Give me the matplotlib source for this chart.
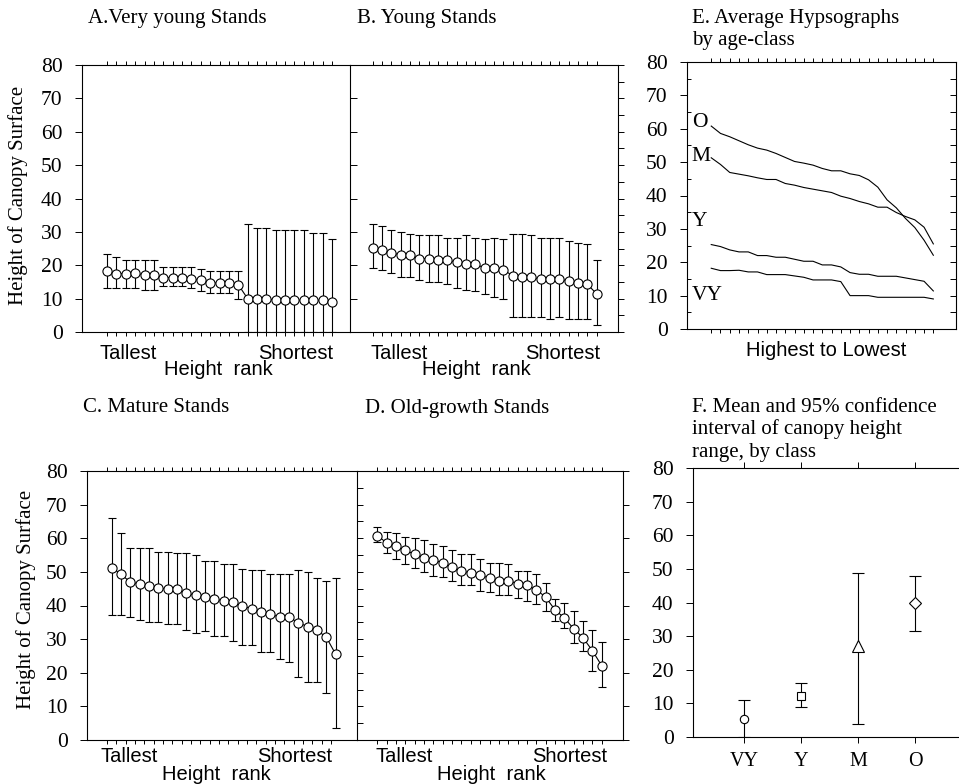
import numpy as np
import matplotlib
matplotlib.use("Agg")
import matplotlib.pyplot as plt

# ---------------------------------------------------------------- data
# Panel A: very young stands (mean and error-bar ends by height rank)
a_mean = [18.2, 17.5, 17.5, 17.6, 17.1, 17.1, 16.3, 16.3, 16.3, 15.9, 15.5, 14.7, 14.7,
          14.7, 14.2, 10.0, 10.0, 10.0, 9.5, 9.5, 9.5, 9.5, 9.5, 9.5, 9.0]
a_low = [13.2, 13.2, 13.2, 13.2, 12.7, 12.7, 13.9, 13.9, 13.9, 13.2, 12.4, 11.6, 11.6,
         11.6, 10.0, 0.0, 0.0, 0.0, 0.0, 0.0, 0.0, 0.0, 0.0, 0.0, 0.0]
a_high = [23.3, 22.5, 21.6, 21.6, 21.6, 21.6, 19.5, 19.5, 19.5, 19.5, 19.0, 18.4, 18.4,
          18.4, 18.4, 32.5, 31.2, 31.2, 30.7, 30.7, 30.7, 30.7, 29.7, 29.7, 27.9]

# Panel B: young stands
b_mean = [25.3, 24.7, 23.7, 23.1, 23.1, 22.0, 22.0, 21.5, 21.5, 20.9, 20.3, 20.3, 19.2,
          19.2, 18.6, 16.9, 16.4, 16.4, 15.8, 15.8, 15.8, 15.3, 14.8, 14.3, 11.4]
b_low = [19.3, 18.7, 17.7, 16.5, 16.5, 15.5, 15.0, 15.0, 14.5, 13.3, 12.7, 12.3, 11.5,
         10.5, 10.0, 4.5, 4.5, 4.5, 4.5, 4.0, 4.5, 4.0, 4.0, 4.0, 2.2]
b_high = [32.3, 31.7, 30.7, 30.0, 29.5, 29.0, 29.0, 29.0, 28.3, 28.3, 29.0, 28.3, 28.0,
          28.3, 28.0, 29.5, 29.5, 29.0, 28.3, 28.3, 28.3, 27.3, 26.7, 26.3, 21.7]

# Panel C: mature stands
c_mean = [51.3, 49.3, 46.9, 46.4, 45.9, 45.3, 44.8, 44.8, 43.6, 43.1, 42.4, 41.9, 41.4,
          40.9, 39.8, 39.1, 38.2, 37.5, 36.5, 36.5, 34.9, 33.7, 32.7, 30.5, 25.5]
c_low = [37.2, 37.2, 36.5, 35.7, 35.0, 35.0, 34.5, 34.5, 32.7, 31.7, 32.4, 31.0, 31.0,
         29.5, 28.4, 28.4, 26.1, 26.1, 24.0, 23.3, 18.8, 17.3, 17.3, 13.9, 3.5]
c_high = [65.9, 61.6, 57.2, 57.2, 57.2, 56.0, 56.0, 55.5, 55.5, 55.0, 53.3, 53.3, 52.2,
          52.2, 51.0, 50.5, 50.5, 49.4, 49.4, 49.4, 50.5, 50.0, 48.3, 47.3, 48.3]

# Panel D: old-growth stands
d_mean = [60.8, 58.6, 57.6, 56.4, 55.2, 54.2, 53.6, 52.6, 51.4, 50.2, 49.7, 49.1, 48.1,
          47.4, 47.4, 46.5, 46.0, 44.7, 42.5, 38.7, 36.3, 33.1, 30.4, 26.6, 22.1]
d_low = [58.9, 55.6, 53.9, 52.2, 51.1, 50.1, 48.9, 48.4, 47.2, 46.2, 46.0, 44.3, 44.0,
         43.2, 43.0, 42.3, 41.2, 40.5, 38.5, 35.3, 33.4, 28.9, 26.4, 20.6, 15.7]
d_high = [63.3, 62.0, 61.6, 60.5, 60.1, 59.4, 58.4, 57.7, 56.6, 55.4, 55.2, 53.9, 52.7,
          52.6, 52.2, 50.4, 50.4, 49.4, 46.7, 42.0, 40.7, 38.3, 35.5, 32.8, 29.1]

# Panel E: average hypsographs (class label, label height)
hypso_labels = ["O", "M", "Y", "VY"]
hypso_label_y = [62.0, 51.7, 32.1, 10.0]

# Panel F: canopy height range by class
f_classes = ["VY", "Y", "M", "O"]
f_mean = [5.5, 12.1, 27.1, 39.8]
f_low = [0.0, 8.9, 4.0, 31.4]
f_high = [11.1, 16.1, 48.9, 48.0]
f_markers = ["o", "s", "^", "D"]
f_msize = [6.0, 6.0, 8.0, 6.5]

y_ticks = np.arange(0, 81, 10)

# ---------------------------------------------------------------- figure
W, H = 959, 784
fig = plt.figure(figsize=(W / 100, H / 100), dpi=100)
SERIF = "Liberation Serif"
SANS = "Liberation Sans"
LW = 0.8


def box(x0, y0, x1, y1):
    return [x0 / W, 1 - y1 / H, (x1 - x0) / W, (y1 - y0) / H]


def ftext(x, y, s, **kw):
    fig.text(x / W, 1 - y / H, s, **kw)


def style_spines(ax):
    for sp in ax.spines.values():
        sp.set_linewidth(LW)


def rank_panel(ax, mean, low, high, xlim, tick_shift=0.0):
    mean = np.asarray(mean)
    low = np.asarray(low)
    high = np.asarray(high)
    x = np.arange(1, len(mean) + 1)
    ax.errorbar(x, mean, yerr=[mean - low, high - mean], fmt="-o", color="black",
                lw=LW, ms=6.6, mfc="white", mec="black", mew=LW, ecolor="black",
                elinewidth=LW, capsize=2.6, capthick=LW)
    ax.set_xlim(*xlim)
    ax.set_ylim(0, 80)
    ax.set_xticks(x + tick_shift)
    ax.tick_params(axis="x", which="major", direction="out", length=3, width=0.7,
                   top=True, bottom=True, labelbottom=False)
    style_spines(ax)


def left_labels(ax):
    ax.set_yticks(y_ticks)
    ax.set_yticklabels([str(v) for v in y_ticks], fontfamily=SERIF, fontsize=15.5)
    ax.tick_params(axis="y", which="major", direction="out", length=5, width=0.7,
                   pad=9, left=True, right=False)


def right_side(ax, direction, minor):
    ax.spines["right"].set_visible(False)
    sec = ax.secondary_yaxis("right")
    sec.set_yticks(y_ticks)
    if minor:
        sec.set_yticks(np.arange(5, 80, 10), minor=True)
    sec.tick_params(which="both", direction=direction, length=4, width=0.7,
                    labelright=False)
    sec.spines["right"].set_linewidth(LW)
    return sec


# ---------------------------------------------------------------- A
axA = fig.add_axes(box(82, 65, 350, 332))
rank_panel(axA, a_mean, a_low, a_high, (-1.68, 26.93))
left_labels(axA)
axA.spines["right"].set_visible(False)

# ---------------------------------------------------------------- B
axB = fig.add_axes(box(350, 65, 618, 332))
rank_panel(axB, b_mean, b_low, b_high, (-1.43, 27.28))
axB.set_yticks(y_ticks)
axB.tick_params(axis="y", which="major", direction="in", length=5, width=0.7,
                labelleft=False, left=True, right=False)
right_side(axB, "out", True)

# ---------------------------------------------------------------- C
axC = fig.add_axes(box(87, 471, 357, 740))
rank_panel(axC, c_mean, c_low, c_high, (-1.65, 27.28), tick_shift=-0.5)
left_labels(axC)
axC.spines["right"].set_visible(False)

# ---------------------------------------------------------------- D
axD = fig.add_axes(box(357, 471, 623, 740))
rank_panel(axD, d_mean, d_low, d_high, (-1.18, 27.28))
axD.set_yticks(y_ticks)
axD.set_yticks(np.arange(5, 80, 10), minor=True)
axD.tick_params(axis="y", which="both", direction="in", length=4, width=0.7,
                labelleft=False, left=True, right=False)
right_side(axD, "out", False)

# ---------------------------------------------------------------- E
axE = fig.add_axes(box(687, 62, 956, 329))
ranks = np.arange(1, 26)
for series in (d_mean, c_mean, b_mean, a_mean):
    axE.plot(ranks, series, color="black", lw=LW)
for lab, yv in zip(hypso_labels, hypso_label_y):
    axE.text(-1.1, yv, lab, fontfamily=SERIF, fontsize=15.5, ha="left", va="center")
axE.set_xlim(-1.62, 27.45)
axE.set_ylim(0, 80)
axE.set_xticks(ranks)
axE.tick_params(axis="x", direction="out", length=3, width=0.7, top=True,
                bottom=True, labelbottom=False)
left_labels(axE)
axE.set_yticks(np.arange(5, 80, 10), minor=True)
axE.tick_params(axis="y", which="minor", direction="in", length=3, width=0.7,
                left=True, right=False)
right_side(axE, "in", True)
style_spines(axE)
axE.spines["right"].set_visible(False)

# ---------------------------------------------------------------- F
axF = fig.add_axes(box(693, 468, 959, 737))
fpos = np.arange(1, len(f_classes) + 1)
for xp, m, lo, hi, mk, ms in zip(fpos, f_mean, f_low, f_high, f_markers, f_msize):
    axF.errorbar([xp], [m], yerr=[[m - lo], [hi - m]], fmt=mk, ms=ms, mfc="white",
                 mec="black", mew=LW, ecolor="black", elinewidth=LW, capsize=4,
                 capthick=LW)
axF.set_xlim(0.105, 4.77)
axF.set_ylim(0, 80)
axF.set_xticks(fpos)
axF.set_xticklabels(f_classes, fontfamily=SERIF, fontsize=14.5)
axF.tick_params(axis="x", direction="out", length=4, width=0.7, top=True,
                bottom=True, pad=7)
left_labels(axF)
style_spines(axF)
axF.spines["right"].set_visible(False)

# ---------------------------------------------------------------- text
title_kw = dict(fontfamily=SERIF, fontsize=15, ha="left", va="center")
ftext(88, 18, "A.Very young Stands", **title_kw)
ftext(357, 18, "B. Young Stands", **title_kw)
ftext(692, 18, "E. Average Hypsographs", **title_kw)
ftext(692, 40, "by age-class", **title_kw)
ftext(83, 408, "C. Mature Stands", **title_kw)
ftext(365, 408, "D. Old-growth Stands", **title_kw)
ftext(692, 407, "F. Mean and 95% confidence", **title_kw)
ftext(692, 429, "interval of canopy height", **title_kw)
ftext(692, 452, "range, by class", **title_kw)

ylab_kw = dict(fontfamily=SERIF, fontsize=15, rotation=90, ha="center", va="center")
ftext(18.5, 195, "Height of Canopy Surface", **ylab_kw)
ftext(26, 599, "Height of Canopy Surface", **ylab_kw)

rank_kw = dict(fontfamily=SANS, fontsize=14.5, ha="center", va="center")
for xt, xs, xr, yt, yr in [(128, 296, 218, 354, 370), (399, 563, 476, 354, 370),
                           (129, 295, 216, 757, 775), (404, 570, 491, 757, 775)]:
    ftext(xt, yt, "Tallest", **rank_kw)
    ftext(xs, yt, "Shortest", **rank_kw)
    ftext(xr, yr, "Height  rank", **rank_kw)
ftext(826, 350, "Highest to Lowest", **rank_kw)

fig.savefig("out.png", dpi=100)
